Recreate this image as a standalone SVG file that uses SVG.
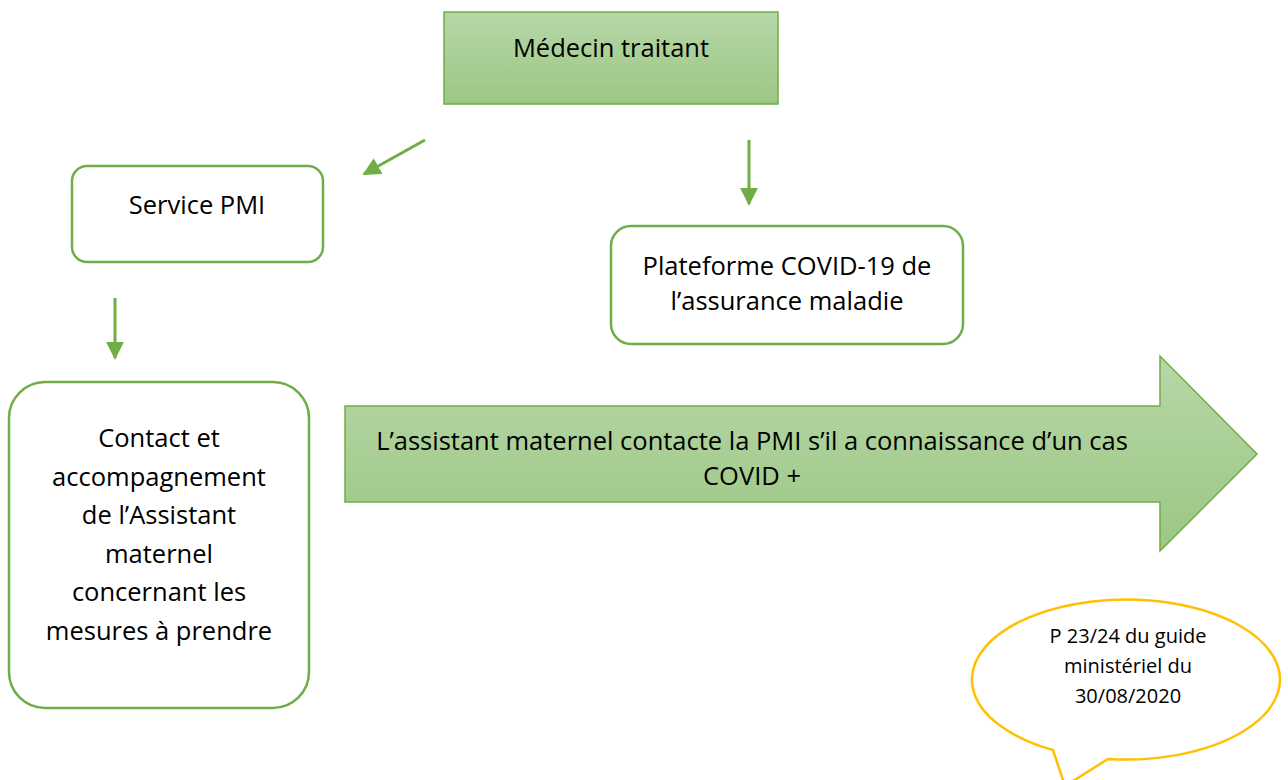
<svg xmlns="http://www.w3.org/2000/svg" width="1288" height="780" viewBox="0 0 1288 780">
<defs>
<linearGradient id="g" x1="0" y1="0" x2="0" y2="1">
<stop offset="0" stop-color="#b7d7a8"/>
<stop offset="1" stop-color="#9cc783"/>
</linearGradient>
<marker id="ah" viewBox="0 0 10 10" refX="9" refY="5" markerWidth="6" markerHeight="6" markerUnits="strokeWidth" orient="auto">
<path d="M0,0 L10,5 L0,10 z" fill="#70ad47"/>
</marker>
<style>
.t{font-family:"Open Sans","Liberation Sans",sans-serif;fill:#000;text-anchor:middle;font-size:25.5px}
.s{font-size:20px}
.box{fill:#fff;stroke:#70ad47;stroke-width:2.5}
.gbox{fill:url(#g);stroke:#70ad47;stroke-width:1.5}
.c{stroke:#70ad47;stroke-width:3;fill:none;marker-end:url(#ah)}
</style>
</defs>
<rect width="1288" height="780" fill="#fff"/>
<g id="medecin">
<rect class="gbox" x="444" y="12" width="334" height="92"/>
<text class="t" x="611" y="57">Médecin traitant</text>
</g>
<g id="pmi">
<rect class="box" x="72" y="166" width="251" height="96" rx="15"/>
<text class="t" x="197" y="214">Service PMI</text>
</g>
<g id="plateforme">
<rect class="box" x="611" y="226" width="352" height="118" rx="20"/>
<text class="t" x="787" y="275">Plateforme COVID-19 de</text>
<text class="t" x="787" y="310">l’assurance maladie</text>
</g>
<g id="contact">
<rect class="box" x="9" y="382" width="300" height="326" rx="36"/>
<text class="t" x="159" y="447">Contact et</text>
<text class="t" x="159" y="486">accompagnement</text>
<text class="t" x="159" y="524">de l’Assistant</text>
<text class="t" x="159" y="563">maternel</text>
<text class="t" x="159" y="601">concernant les</text>
<text class="t" x="159" y="640">mesures à prendre</text>
</g>
<g id="bigarrow">
<path d="M345,406 H1160 V356 L1257,454 L1160,551 V502 H345 Z" fill="url(#g)" stroke="#70ad47" stroke-width="1.5"/>
<text class="t" x="752" y="450">L’assistant maternel contacte la PMI s’il a connaissance d’un cas</text>
<text class="t" x="752" y="485">COVID +</text>
</g>
<g id="callout">
<path d="M1053,750 A154,80 0 1 1 1108,759 L1065,786 Z" fill="#fff" stroke="#ffc000" stroke-width="2.5" stroke-linejoin="miter"/>
<text class="t s" x="1128" y="643">P 23/24 du guide</text>
<text class="t s" x="1128" y="673">ministériel du</text>
<text class="t s" x="1128" y="703">30/08/2020</text>
</g>
<g id="connectors">
<line class="c" x1="425" y1="140" x2="364" y2="174"/>
<line class="c" x1="749" y1="140" x2="749" y2="204"/>
<line class="c" x1="115" y1="298" x2="115" y2="358"/>
</g>
</svg>
